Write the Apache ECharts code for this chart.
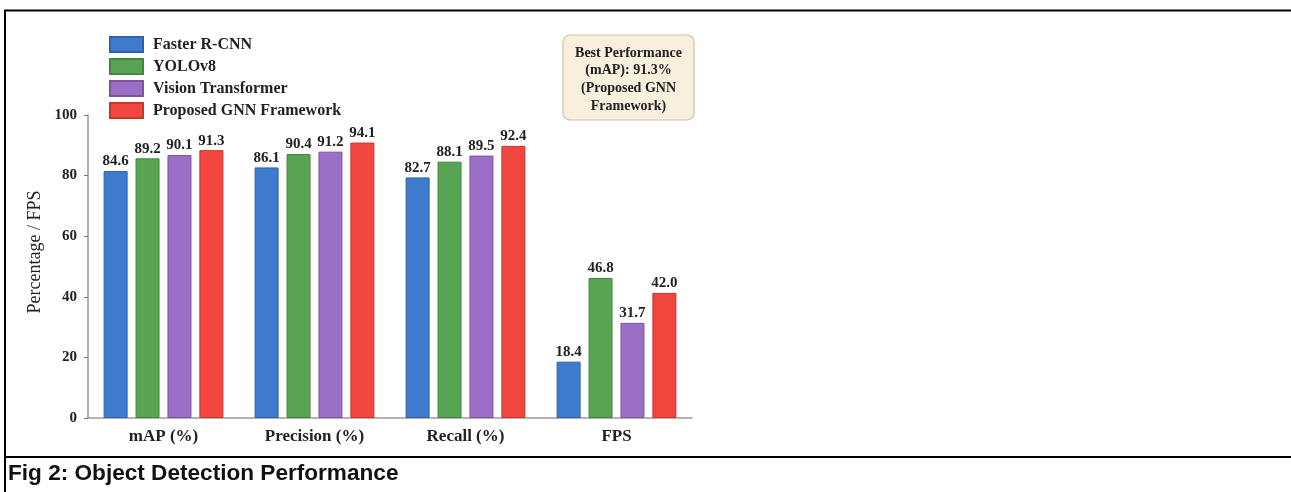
<!DOCTYPE html>
<html>
<head>
<meta charset="utf-8">
<script src="https://cdn.jsdelivr.net/npm/echarts@6/dist/echarts.min.js"></script>
<style>
html,body{margin:0;padding:0;background:#fff;}
#c{width:1291px;height:492px;}
</style>
</head>
<body>
<div id="c"></div>
<script>
// Categories and series (bar heights as drawn in the picture; label texts as printed)
const categories = ['mAP (%)', 'Precision (%)', 'Recall (%)', 'FPS'];
const seriesNames = ['Faster R-CNN', 'YOLOv8', 'Vision Transformer', 'Proposed GNN Framework'];
const fasterRcnn = [81.5, 82.7, 79.4, 18.6];
const yolov8 = [85.7, 87.1, 84.6, 46.2];
const visionTransformer = [86.8, 87.9, 86.6, 31.4];
const proposedGnn = [88.4, 90.9, 89.8, 41.3];
const fasterRcnnLabels = ['84.6', '86.1', '82.7', '18.4'];
const yolov8Labels = ['89.2', '90.4', '88.1', '46.8'];
const visionTransformerLabels = ['90.1', '91.2', '89.5', '31.7'];
const proposedGnnLabels = ['91.3', '94.1', '92.4', '42.0'];
const yTicks = [0, 20, 40, 60, 80, 100];
const yAxisTitle = 'Percentage / FPS';
const annotationLines = ['Best Performance', '(mAP): 91.3%', '(Proposed GNN', 'Framework)'];
const captionText = 'Fig 2: Object Detection Performance';

const colors = ['#3e7bcf', '#57a452', '#9b6fc6', '#f1473f'];
const edgeColors = ['#2f62a8', '#44853f', '#7d559f', '#c73730'];
const serif = '"Liberation Serif", "DejaVu Serif", serif';

const allData = [fasterRcnn, yolov8, visionTransformer, proposedGnn];
const allLabels = [fasterRcnnLabels, yolov8Labels, visionTransformerLabels, proposedGnnLabels];

const chart = echarts.init(document.getElementById('c'), null, {renderer: 'canvas'});

const series = seriesNames.map((name, i) => ({
  name: name,
  type: 'bar',
  data: allData[i],
  barWidth: 24,
  barGap: '33%',
  itemStyle: {color: colors[i], borderColor: edgeColors[i], borderWidth: 1},
  label: {
    show: true,
    position: 'top',
    distance: 2,
    formatter: p => allLabels[i][p.dataIndex],
    fontFamily: serif,
    fontWeight: 'bold',
    fontSize: 15,
    color: '#222'
  }
}));

const annX = 563, annY = 35, annW = 131, annH = 85;

const option = {
  backgroundColor: '#ffffff',
  animation: false,
  grid: {left: 88, right: 599, top: 115, bottom: 74},
  legend: {
    data: seriesNames,
    orient: 'vertical',
    left: 104,
    top: 31,
    itemWidth: 33,
    itemHeight: 15,
    itemGap: 5,
    icon: 'rect',
    textStyle: {fontFamily: serif, fontWeight: 'bold', fontSize: 16, lineHeight: 16, color: '#222', padding: [0, 0, 0, 5]}
  },
  xAxis: {
    type: 'category',
    data: categories,
    axisLine: {lineStyle: {color: '#9a9a9a', width: 1.5}},
    axisTick: {alignWithLabel: true, length: 4, lineStyle: {color: '#777'}},
    axisLabel: {fontFamily: serif, fontWeight: 'bold', fontSize: 17, color: '#222', margin: 10}
  },
  yAxis: {
    type: 'value',
    min: yTicks[0],
    max: yTicks[yTicks.length - 1],
    interval: yTicks[1] - yTicks[0],
    splitLine: {show: false},
    axisLine: {show: true, lineStyle: {color: '#9a9a9a', width: 1.5}},
    axisTick: {show: true, length: 4, lineStyle: {color: '#777'}},
    axisLabel: {fontFamily: serif, fontWeight: 'bold', fontSize: 15, color: '#222', margin: 11}
  },
  series: series,
  graphic: [
    {type: 'text', z: 5, x: 35, y: 252, rotation: Math.PI / 2,
     style: {text: yAxisTitle, x: 0, y: 0, textAlign: 'center', textVerticalAlign: 'middle',
             font: '18px ' + serif, fill: '#222'}},
    {type: 'rect', shape: {x: annX, y: annY, width: annW, height: annH, r: 7},
     style: {fill: '#f8efdc', stroke: '#cfc2a2', lineWidth: 1.2}, z: 10},
    ...annotationLines.map((t, k) => ({
      type: 'text', z: 11,
      style: {text: t, x: annX + annW / 2, y: 53 + k * 17.8, textAlign: 'center', textVerticalAlign: 'middle',
              font: 'bold 14px ' + serif, fill: '#222'}
    })),
    {type: 'line', shape: {x1: 4, y1: 10.5, x2: 1291, y2: 10.5}, style: {stroke: '#000', lineWidth: 2}, z: 20},
    {type: 'line', shape: {x1: 5, y1: 10, x2: 5, y2: 492}, style: {stroke: '#000', lineWidth: 2}, z: 20},
    {type: 'line', shape: {x1: 4, y1: 457, x2: 1291, y2: 457}, style: {stroke: '#000', lineWidth: 2}, z: 20},
    {type: 'text', z: 20,
     style: {text: captionText, x: 8, y: 474, textVerticalAlign: 'middle',
             font: 'bold 22.6px "Liberation Sans", Arial, sans-serif', fill: '#111'}}
  ]
};

chart.setOption(option);
</script>
</body>
</html>
